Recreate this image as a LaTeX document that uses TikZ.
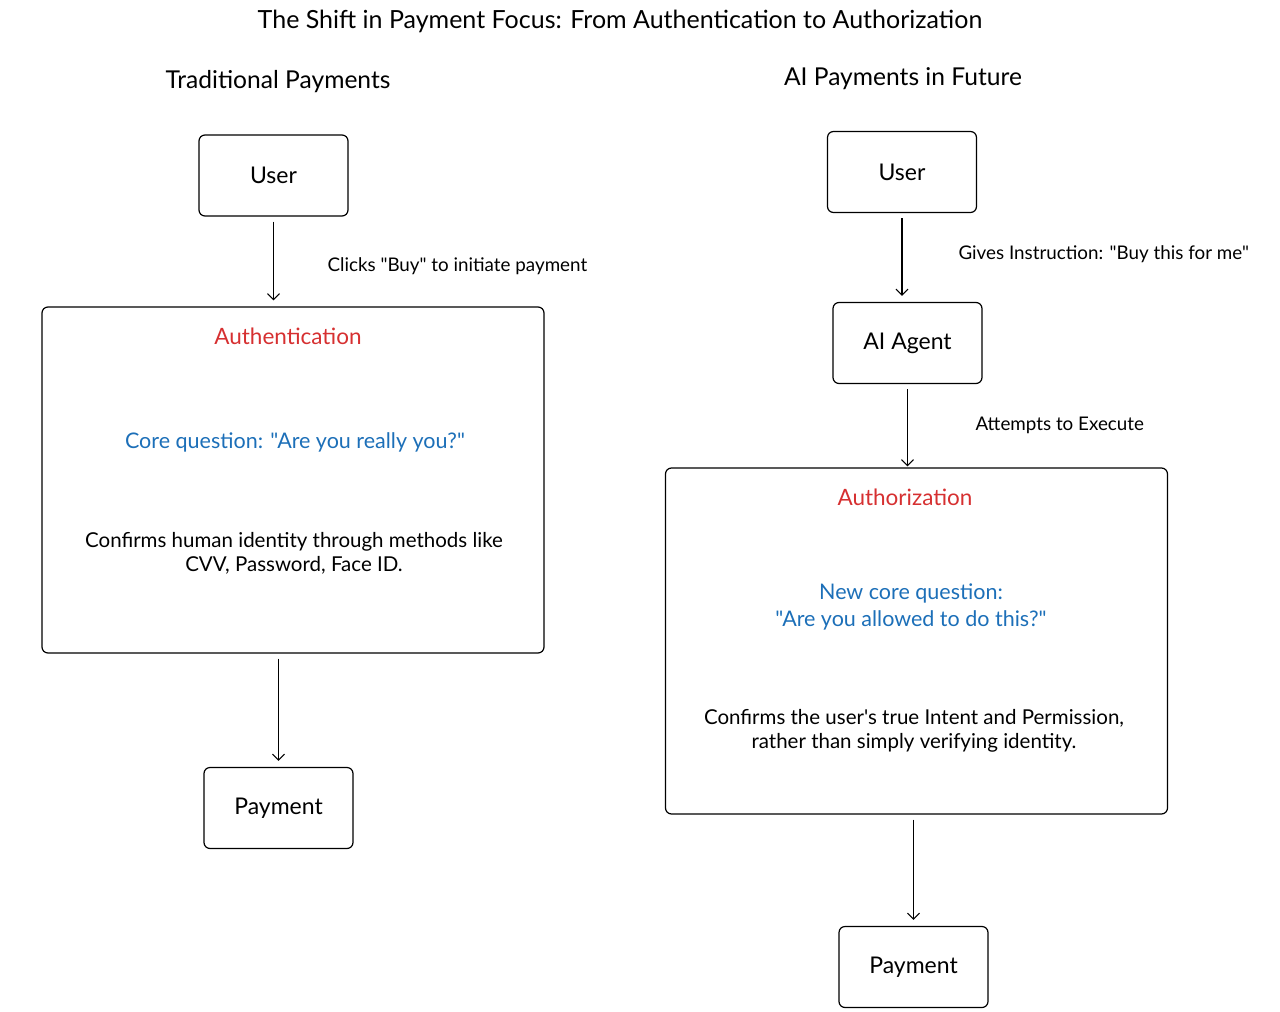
\documentclass[tikz,border=0pt]{standalone}
\usepackage{fontspec}
\setmainfont{Lato}[Ligatures=TeXOff]
\usepackage{xcolor}
\usetikzlibrary{arrows.meta,positioning}
\definecolor{authred}{HTML}{D63031}
\definecolor{qblue}{HTML}{1C6FB8}

\begin{document}
\begin{tikzpicture}[x=1pt,y=1pt,node distance=0pt and 0pt]
\tikzstyle{bx}=[draw,rounded corners=6pt,line width=1.2pt,minimum width=149pt,minimum height=81pt,font=\fontsize{23}{28}\selectfont]
\tikzstyle{bigbx}=[draw,rounded corners=6pt,line width=1.2pt,minimum width=502pt,minimum height=346pt]
\tikzstyle{head}=[font=\fontsize{24.6}{30}\selectfont]
\tikzstyle{lbl}=[font=\fontsize{18.8}{23}\selectfont,anchor=west]
\tikzstyle{txt}=[font=\fontsize{20.5}{24}\selectfont,align=center]
\tikzstyle{redhd}=[font=\fontsize{22.5}{27}\selectfont,text=authred]
\tikzstyle{blueq}=[font=\fontsize{21.5}{27}\selectfont,text=qblue,align=center]
\tikzstyle{flow}=[-{Straight Barb[length=6pt,width=12pt]},line width=1.1pt,shorten <=5pt,shorten >=6pt]

\useasboundingbox (0,0) rectangle (1280,-1012);

% headings
\node[head,font=\fontsize{25}{30}\selectfont] (title) at (620,-21) {The Shift in Payment Focus: From Authentication to Authorization};
\node[head] (tradhd) at (278,-82) {Traditional Payments};
\node[head] (aihd) at (903,-79) {AI Payments in Future};

% traditional payments
\node[bx] (tuser) at (273.5,-175.5) {User};
\node[bigbx] (auth) at (293,-480) {};
\node[bx] (tpay) at (278.5,-808) {Payment};

\node[redhd] (authhd) at (288,-336) {Authentication};
\node[blueq] (authq) at (295,-442) {Core question: "Are you really you?"};
\node[txt] (authdesc) at (294,-553) {Confirms human identity through methods like\\CVV, Password, Face ID.};

\draw[flow] (tuser.south) -- (tuser.south |- auth.north);
\draw[flow] (tpay.north |- auth.south) -- (tpay.north);
\node[lbl] (clicklbl) at (324,-266) {Clicks "Buy" to initiate payment};

% AI payments
\node[bx] (auser) at (902,-172) {User};
\node[bx] (agent) at (907.5,-343) {AI Agent};
\node[bigbx] (authz) at (916.5,-641) {};
\node[bx] (apay) at (913.5,-967) {Payment};

\node[redhd] (authzhd) at (905,-497) {Authorization};
\node[blueq] (authzq) at (911,-607) {New core question:\\"Are you allowed to do this?"};
\node[txt] (authzdesc) at (914,-731) {Confirms the user's true Intent and Permission,\\rather than simply verifying identity.};

\draw[flow] (auser.south) -- (auser.south |- agent.north);
\draw[flow,shorten >=1pt] (agent.south) -- (agent.south |- authz.north);
\draw[flow] (apay.north |- authz.south) -- (apay.north);
\node[lbl] (instrlbl) at (955,-254) {Gives Instruction: "Buy this for me"};
\node[lbl] (execlbl) at (972,-425) {Attempts to Execute};
\end{tikzpicture}
\end{document}
